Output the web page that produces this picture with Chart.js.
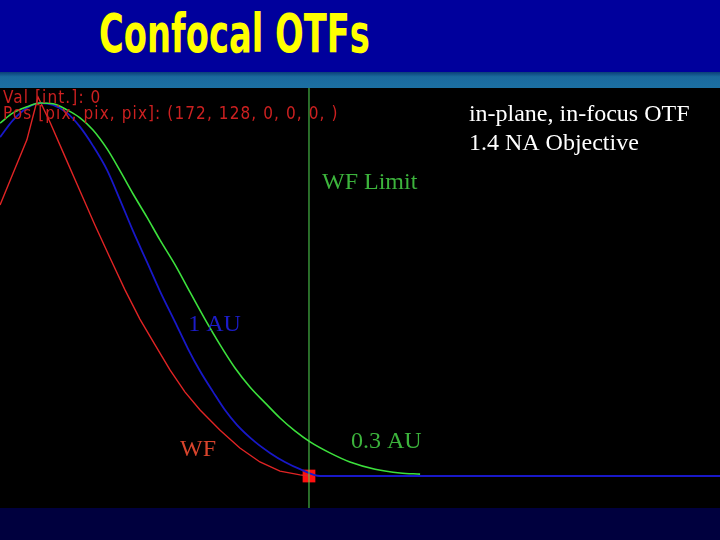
<!DOCTYPE html>
<html>
<head>
<meta charset="utf-8">
<script src="https://cdn.jsdelivr.net/npm/chart.js@4"></script>
<style>
  html, body { margin: 0; padding: 0; background: #000; }
  .page { position: relative; width: 720px; height: 540px; overflow: hidden; background: #000; }
  .top { position: absolute; left: 0; top: 0; width: 720px; height: 72px; background: #00009c; }
  .band { position: absolute; left: 0; top: 72px; width: 720px; height: 16px;
          background: linear-gradient(#0b3f78, #1a6a9e 30%, #1c6fa2); }
  .bottom { position: absolute; left: 0; top: 508px; width: 720px; height: 32px; background: #00003e; }
  .title { position: absolute; left: 99px; top: 7px; margin: 0; color: #ffff00;
           font-family: "Liberation Sans Narrow", "DejaVu Sans Condensed", sans-serif;
           font-weight: bold; font-size: 46px; line-height: 46px;
           transform: scale(0.816, 1.164); transform-origin: 0 0; white-space: nowrap; }
  canvas { position: absolute; left: 0; top: 88px; background: #000; }
</style>
</head>
<body>
<div class="page">
  <div class="top"></div>
  <div class="band"></div>
  <h1 class="title">Confocal OTFs</h1>
  <canvas id="otf" width="720" height="420"></canvas>
  <div class="bottom"></div>
</div>
<script>
// spatial frequency, in units of the widefield cut-off (WF limit = 1)
const freqWF = [-0.140, -0.092, -0.041, 0, 0.044, 0.100, 0.155, 0.210, 0.266, 0.321, 0.376, 0.432, 0.487, 0.542, 0.598, 0.672, 0.745, 0.819, 0.893, 0.967, 1.0];
const otfWF = [0.715, 0.799, 0.887, 1.0, 0.934, 0.842, 0.752, 0.662, 0.575, 0.491, 0.414, 0.346, 0.280, 0.222, 0.174, 0.121, 0.074, 0.037, 0.013, 0.003, 0.0];

const freq1AU = [-0.140, -0.092, -0.041, 0.007, 0.055, 0.107, 0.155, 0.203, 0.255, 0.303, 0.351, 0.402, 0.450, 0.506, 0.554, 0.598, 0.646, 0.690, 0.734, 0.801, 0.856, 0.911, 0.967, 1.041, 2.517];
const otf1AU = [0.894, 0.939, 0.971, 0.984, 0.979, 0.958, 0.921, 0.871, 0.807, 0.728, 0.646, 0.565, 0.488, 0.406, 0.335, 0.277, 0.222, 0.174, 0.135, 0.090, 0.061, 0.037, 0.018, 0.0, 0.0];

const freq03AU = [-0.140, -0.092, -0.041, 0.007, 0.055, 0.107, 0.155, 0.203, 0.255, 0.303, 0.351, 0.402, 0.450, 0.506, 0.561, 0.616, 0.672, 0.727, 0.782, 0.838, 0.893, 0.948, 1.004, 1.077, 1.151, 1.244, 1.336, 1.410];
const otf03AU = [0.931, 0.958, 0.974, 0.984, 0.982, 0.966, 0.945, 0.913, 0.863, 0.805, 0.744, 0.683, 0.623, 0.557, 0.485, 0.414, 0.346, 0.285, 0.235, 0.193, 0.153, 0.119, 0.090, 0.061, 0.037, 0.018, 0.008, 0.005];

const wfLimit = 1.0;
const xMin = -0.1402, xMax = 2.5166;
const yMin = -0.0844, yMax = 1.0237;

function toPoints(xs, ys) {
    return xs.map((x, i) => ({ x: x, y: ys[i] }));
}

// text placed in data space (left end of the baseline)
const debugFont = '17px "DejaVu Sans Condensed", "DejaVu Sans", sans-serif';
const serifFont = '24px "Liberation Serif", serif';
const notes = [
    { text: 'Val [int.]: 0', x: -0.129, y: 0.984, color: '#cc2020', font: debugFont, spacing: '1.1px' },
    { text: 'Pos [pix, pix, pix]: (172, 128, 0, 0, 0, )', x: -0.129, y: 0.942, color: '#cc2020', font: debugFont, spacing: '1.1px' },
    { text: 'in-plane, in-focus OTF', x: 1.590, y: 0.937, color: '#ffffff', font: serifFont },
    { text: '1.4 NA Objective', x: 1.590, y: 0.860, color: '#ffffff', font: serifFont },
    { text: 'WF Limit', x: 1.048, y: 0.757, color: '#3cb43c', font: serifFont },
    { text: '1 AU', x: 0.554, y: 0.383, color: '#1c1cc8', font: serifFont },
    { text: 'WF', x: 0.524, y: 0.053, color: '#d8442c', font: serifFont },
    { text: '0.3 AU', x: 1.155, y: 0.074, color: '#3cb43c', font: serifFont }
];

const notesPlugin = {
    id: 'notes',
    afterDatasetsDraw(chart) {
        const ctx = chart.ctx;
        const xs = chart.scales.x, ys = chart.scales.y;
        ctx.save();
        ctx.textBaseline = 'alphabetic';
        ctx.textAlign = 'left';
        notes.forEach(n => {
            ctx.font = n.font;
            ctx.letterSpacing = n.spacing || '0px';
            ctx.fillStyle = n.color;
            ctx.fillText(n.text, xs.getPixelForValue(n.x), ys.getPixelForValue(n.y));
        });
        ctx.restore();
    }
};

new Chart(document.getElementById('otf'), {
    type: 'line',
    data: {
        datasets: [
            {
                label: 'WF Limit',
                data: [{ x: wfLimit, y: yMin }, { x: wfLimit, y: yMax }],
                borderColor: '#52d852',
                borderWidth: 1,
                pointRadius: 0
            },
            {
                label: '0.3 AU',
                data: toPoints(freq03AU, otf03AU),
                borderColor: '#3ce03c',
                borderWidth: 1.6,
                pointRadius: 0,
                cubicInterpolationMode: 'monotone'
            },
            {
                label: '1 AU',
                data: toPoints(freq1AU, otf1AU),
                borderColor: '#1818c8',
                borderWidth: 1.8,
                pointRadius: 0,
                cubicInterpolationMode: 'monotone'
            },
            {
                label: 'WF',
                data: toPoints(freqWF, otfWF),
                borderColor: '#e02424',
                borderWidth: 1.4,
                pointRadius: 0,
                tension: 0
            },
            {
                label: 'cursor',
                data: [{ x: wfLimit, y: 0 }],
                showLine: false,
                pointStyle: 'rect',
                pointRadius: 9,
                backgroundColor: '#ff1010',
                borderColor: '#ff1010',
                borderWidth: 0
            }
        ]
    },
    options: {
        responsive: false,
        animation: false,
        devicePixelRatio: 1,
        layout: { padding: 0, autoPadding: false },
        plugins: {
            legend: { display: false },
            tooltip: { enabled: false }
        },
        scales: {
            x: { type: 'linear', min: xMin, max: xMax, display: false },
            y: { min: yMin, max: yMax, display: false }
        }
    },
    plugins: [notesPlugin]
});
</script>
</body>
</html>
